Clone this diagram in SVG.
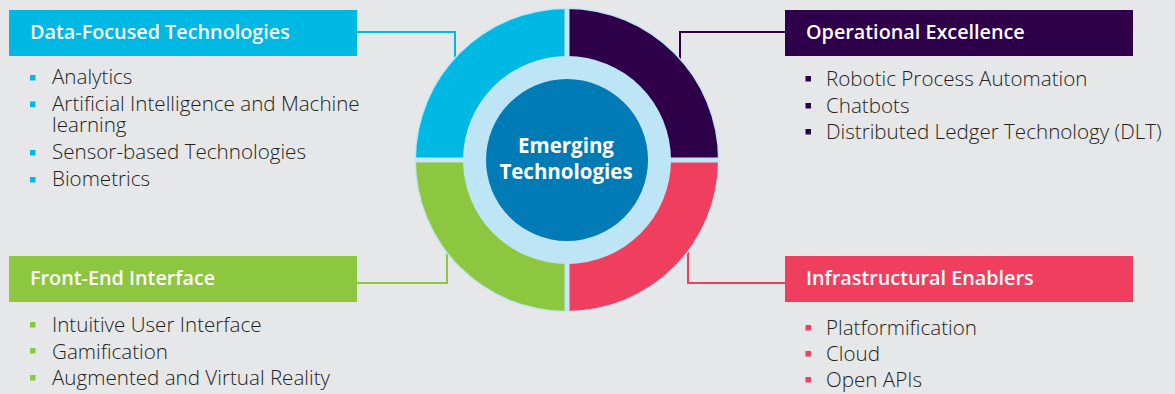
<svg xmlns="http://www.w3.org/2000/svg" width="1175" height="394" viewBox="0 0 1175 394">
<style>
.hdr{font-family:"Open Sans","Noto Sans",sans-serif;font-size:19.8px;font-weight:600;fill:#ffffff}
.item{font-family:"Open Sans","Noto Sans",sans-serif;font-size:20.6px;font-weight:300;fill:#231f20}
.ctr{font-family:"Open Sans","Noto Sans",sans-serif;font-size:20.5px;font-weight:700;fill:#ffffff;text-anchor:middle}
.conn{fill:none;stroke-width:2}
</style>
<rect x="0" y="0" width="1175" height="394" fill="#e6e7e9"/>
<g id="connectors">
<path class="conn" stroke="#00b8e4" d="M357,32 H455 V72"/>
<path class="conn" stroke="#2e0049" d="M785,32 H680 V72"/>
<path class="conn" stroke="#8dc63f" d="M357,283 H447 V238"/>
<path class="conn" stroke="#f03e5f" d="M785,283 H688 V238"/>
</g>
<g id="hub">
<circle cx="567" cy="160" r="152.5" fill="#c4e6f5"/>
<path d="M567,160 L416,160 A151,151 0 0 1 567,9 Z" fill="#00b8e4"/>
<path d="M567,160 L567,9 A151,151 0 0 1 718,160 Z" fill="#2e0049"/>
<path d="M567,160 L718,160 A151,151 0 0 1 567,311 Z" fill="#f03e5f"/>
<path d="M567,160 L567,311 A151,151 0 0 1 416,160 Z" fill="#8dc63f"/>
<path d="M567,8 V312 M415,160 H719" stroke="#c4e6f5" stroke-width="5"/>
<circle cx="567" cy="160" r="104" fill="#bee5f6"/>
<circle cx="567" cy="160" r="81" fill="#007bb6"/>
<text class="ctr" x="566" y="153">Emerging</text>
<text class="ctr" x="566" y="179">Technologies</text>
</g>
<g id="data-focused">
<rect x="9" y="10" width="348" height="46" fill="#00b8e4"/>
<text class="hdr" x="30" y="39">Data-Focused Technologies</text>
<g fill="#00b8e4">
<rect x="30" y="75" width="5.5" height="5.5"/>
<rect x="30" y="101.5" width="5.5" height="5.5"/>
<rect x="30" y="150" width="5.5" height="5.5"/>
<rect x="30" y="177" width="5.5" height="5.5"/>
</g>
<text class="item" x="52" y="84">Analytics</text>
<text class="item" x="52" y="110.5">Artificial Intelligence and Machine<tspan x="52" dy="21">learning</tspan></text>
<text class="item" x="52" y="159">Sensor-based Technologies</text>
<text class="item" x="52" y="186">Biometrics</text>
</g>
<g id="operational-excellence">
<rect x="785" y="10" width="348" height="46" fill="#2e0049"/>
<text class="hdr" x="806" y="39">Operational Excellence</text>
<g fill="#2e0049">
<rect x="805.5" y="76" width="5.5" height="5.5"/>
<rect x="805.5" y="103" width="5.5" height="5.5"/>
<rect x="805.5" y="129" width="5.5" height="5.5"/>
</g>
<text class="item" x="826" y="86">Robotic Process Automation</text>
<text class="item" x="826" y="112.5">Chatbots</text>
<text class="item" x="826" y="139">Distributed Ledger Technology (DLT)</text>
</g>
<g id="front-end-interface">
<rect x="9" y="256" width="348" height="46" fill="#8dc63f"/>
<text class="hdr" x="30" y="285">Front-End Interface</text>
<g fill="#8dc63f">
<rect x="30" y="322" width="5.5" height="5.5"/>
<rect x="30" y="348" width="5.5" height="5.5"/>
<rect x="30" y="375" width="5.5" height="5.5"/>
</g>
<text class="item" x="52" y="332">Intuitive User Interface</text>
<text class="item" x="52" y="358.5">Gamification</text>
<text class="item" x="52" y="385">Augmented and Virtual Reality</text>
</g>
<g id="infrastructural-enablers">
<rect x="785" y="256" width="348" height="46" fill="#f03e5f"/>
<text class="hdr" x="806" y="285">Infrastructural Enablers</text>
<g fill="#f03e5f">
<rect x="805.5" y="325" width="5.5" height="5.5"/>
<rect x="805.5" y="351" width="5.5" height="5.5"/>
<rect x="805.5" y="377" width="5.5" height="5.5"/>
</g>
<text class="item" x="826" y="335">Platformification</text>
<text class="item" x="826" y="361">Cloud</text>
<text class="item" x="826" y="387">Open APIs</text>
</g>
</svg>
